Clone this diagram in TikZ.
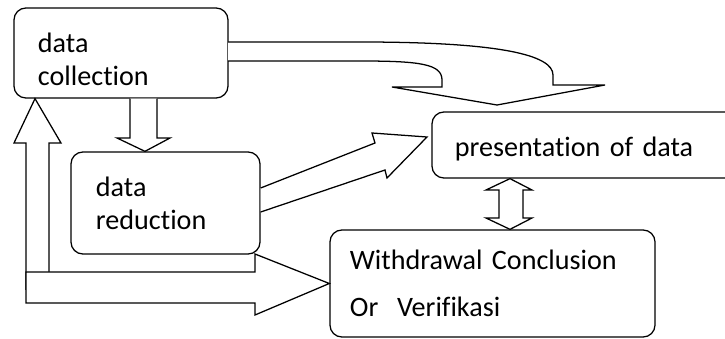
\documentclass[tikz,border=0pt]{standalone}
\usepackage{fontspec}
\setmainfont{Carlito}[Ligatures=NoCommon]
\begin{document}
\begin{tikzpicture}[x=0.025cm,y=-0.025cm,line width=0.9pt,
    box/.style={draw,rounded corners=0.3cm,align=left,
        font=\fontsize{20}{23.5}\selectfont},
    blk/.style={draw,fill=white,line join=miter}]
    \useasboundingbox (0,0) rectangle (725,339);
    \clip (0,0) rectangle (725,339);
    % the boxes
    \node[box,text width=4.15cm,inner xsep=0.6cm,minimum height=2.25cm]
        (coll) at (121,53) {\rule{0pt}{23pt}data\\collection};
    \node[box,text width=3.475cm,inner xsep=0.625cm,minimum height=2.55cm]
        (red) at (165.5,203) {data\\reduction};
    \node[box,text width=6.55cm,inner xsep=0.575cm,minimum height=1.65cm]
        (pres) at (586,145) {\rule{0pt}{19pt}presentation of data};
    \node[box,text width=7.125cm,inner xsep=0.5cm,minimum height=2.675cm]
        (concl) at (492.5,283.5) {Withdrawal Conclusion\\[10pt]Or~~Verifikasi};

    % the block arrows
    \draw[blk] (228,0 |- coll.east) ++(0,-11) -- (360,42)
        .. controls (500,42) and (553,55) .. (553,75) -- (553,85)
        -- (605,85) -- (497,105) -- (392,87) -- (442,87) -- (442,80)
        .. controls (442,64) and (420,61) .. (360,61) -- (228,61);
    \draw[blk] (130,0 |- coll.south) -- (130,138) -- (117,138)
        -- (145,0 |- red.north) -- (170,138) -- (157,138)
        -- (157,0 |- coll.south);
    \draw[blk] (red.east |- 0,212) -- (385,170) -- (387,178)
        -- (427,137) -- (372,133) -- (375,143) -- (red.east |- 0,188);
    \draw[blk] (510,0 |- pres.south) -- (532,190) -- (523,190)
        -- (523,218) -- (532,218) -- (510,0 |- concl.north)
        -- (486,218) -- (499,218) -- (499,190) -- (486,190) -- cycle;
    \draw[blk] (26,290) -- (26,143) -- (14,143) -- (35,0 |- coll.south)
        -- (61,143) -- (49,143) -- (49,290);
    \draw[blk] (26,272) -- (255,272) -- (255,254) -- (concl.west)
        -- (255,315) -- (255,303) -- (26,303) -- cycle;
\end{tikzpicture}
\end{document}
